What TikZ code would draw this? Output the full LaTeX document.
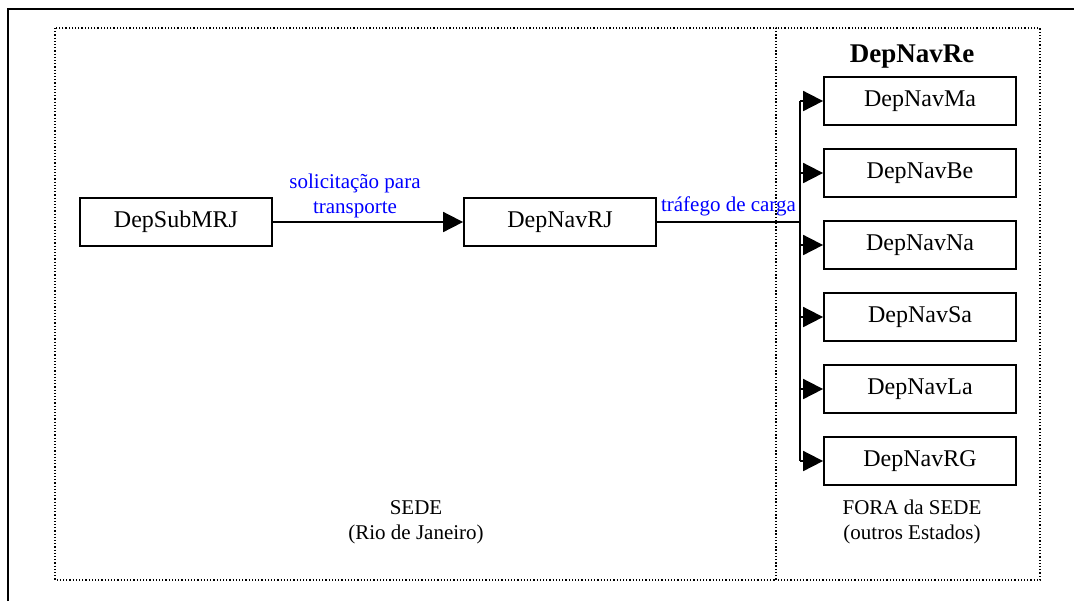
\documentclass[tikz,border=0pt]{standalone}
\usepackage{fontspec}
\setmainfont{Liberation Serif}
\usetikzlibrary{arrows.meta,positioning}

\begin{document}
\begin{tikzpicture}[x=0.5pt,y=-0.5pt,
  dep/.style={draw,line width=0.9pt,minimum width=96pt,minimum height=24pt,
    inner sep=0pt,font=\fontsize{12}{14}\selectfont},
  area/.style={draw,densely dotted,line width=0.6pt},
  flow/.style={-{Triangle[length=10pt,width=10pt]},line width=0.9pt},
  note/.style={align=center,font=\fontsize{10.5}{12.5}\selectfont},
  node distance=11.1pt]
  \useasboundingbox (0,0) rectangle (1074,601);
  \draw[line width=1pt] (8,601) -- (8,9) -- (1074,9);
  % the two areas
  \draw[area] (55,28) rectangle (776,580);
  \draw[area] (776,28) rectangle (1040,580);
  \node[note] (sede) at (416,522) {SEDE\\(Rio de Janeiro)};
  \node[note] (fora) at (912,522) {FORA da SEDE\\(outros Estados)};
  % headquarters
  \node[dep] (depsubmrj) at (176,222) {DepSubMRJ};
  \node[dep] (depnavrj) at (560,222) {DepNavRJ};
  \draw[flow] (depsubmrj) -- (depnavrj)
    node[midway,above=-2pt,xshift=-6.5pt,note,text=blue] {solicitação para\\transporte};
  % other states
  \node[font=\fontsize{13.5}{15}\selectfont\bfseries] (depnavre) at (912,57) {DepNavRe};
  \node[dep] (depnavma) at (920,101) {DepNavMa};
  \node[dep,below=of depnavma] (depnavbe) {DepNavBe};
  \node[dep,below=of depnavbe] (depnavna) {DepNavNa};
  \node[dep,below=of depnavna] (depnavsa) {DepNavSa};
  \node[dep,below=of depnavsa] (depnavla) {DepNavLa};
  \node[dep,below=of depnavla] (depnavrg) {DepNavRG};
  \coordinate (bus) at (800,222);
  \draw[line width=0.9pt] (depnavrj.east) -- (bus)
    node[pos=0.5,above=-1pt,note,text=blue] {tráfego de carga};
  \draw[line width=0.9pt] (bus |- depnavma.west) -- (bus |- depnavrg.west);
  \foreach \n in {depnavma,depnavbe,depnavna,depnavsa,depnavla,depnavrg}
    \draw[flow] (bus |- \n.west) -- (\n.west);
\end{tikzpicture}
\end{document}
